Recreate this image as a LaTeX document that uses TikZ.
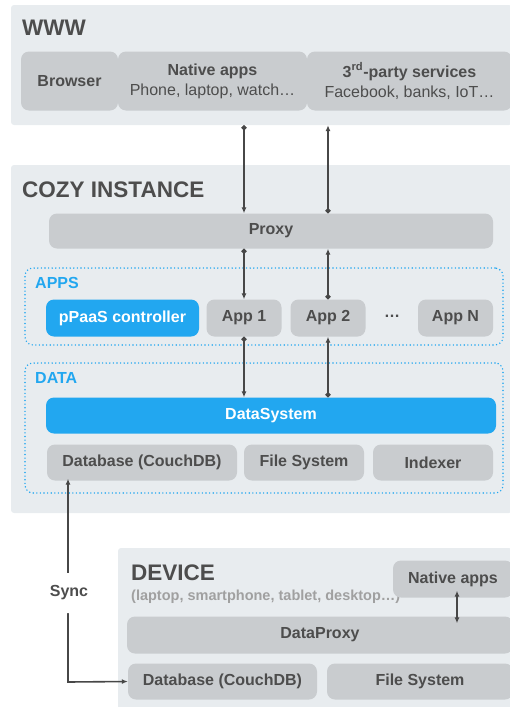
\documentclass[tikz,border=0pt]{standalone}
\usepackage{fontspec}
\setmainfont{Liberation Sans}
\usetikzlibrary{arrows.meta,positioning,calc}

\definecolor{panelbg}{HTML}{E8ECEF}
\definecolor{boxgray}{HTML}{C9CCCF}
\definecolor{cozyblue}{HTML}{22A7F0}
\definecolor{textgray}{HTML}{4D4D4D}
\definecolor{subgray}{HTML}{A0A0A0}
\definecolor{linegray}{HTML}{474747}

\newcommand\boxtextfont{\fontsize{16}{20}\selectfont\bfseries}
\newcommand\panelfont{\fontsize{22.5}{26}\selectfont\bfseries}
\newcommand\zonefont{\fontsize{16}{19}\selectfont\bfseries}
\newcommand\subfont{\fontsize{14.5}{17}\selectfont\bfseries}

\begin{document}
\begin{tikzpicture}[x=1pt, y=-1pt]
    \tikzset{panel/.style = {fill=panelbg, rounded corners=3pt, inner sep=0pt},
      box/.style = {fill=boxgray, rounded corners=8pt, text=textgray,
        font=\boxtextfont, inner sep=0pt, align=center},
      bluebox/.style = {box, fill=cozyblue, text=white},
      title/.style = {anchor=west, inner sep=0pt, text=textgray, font=\panelfont},
      zone/.style = {draw=cozyblue, rounded corners=8pt, line width=1.6pt,
        dash pattern=on 0pt off 3.6pt, line cap=round, inner sep=0pt},
      zonelabel/.style = {anchor=west, inner sep=0pt, text=cozyblue, font=\zonefont},
      dotarrow/.style = {draw=linegray, line width=1.6pt,
        {Circle[length=5pt]}-{Latex[length=6pt,width=5pt]}},
      botharrow/.style = {draw=linegray, line width=1.6pt,
        {Latex[length=6pt,width=5pt]}-{Latex[length=6pt,width=5pt]}},
      syncbox/.style = {fill=white, rounded corners=8pt, minimum width=64pt,
        minimum height=40pt, text=textgray, font=\boxtextfont}}
    \useasboundingbox (0,0) rectangle (510,707);

    % WWW
    \node[panel, minimum width=501pt, minimum height=120pt] (www) at (261.5,65) {};
    \node[title] (wwwtitle) at (22,28) {WWW};
    \node[box, minimum width=97pt, minimum height=59pt] (browser) at (69.5,81) {Browser};
    \node[box, minimum width=189pt, minimum height=59pt] (native) at (212.5,81) {Native apps\\{\mdseries Phone, laptop, watch…}};
    \node[box, minimum width=205pt, minimum height=59pt] (thirdparty) at (409.5,81) {3\textsuperscript{rd}-party services\\{\mdseries Facebook, banks, IoT…}};

    % COZY INSTANCE
    \node[panel, minimum width=501pt, minimum height=348pt] (cozy) at (261.5,339) {};
    \node[title] (cozytitle) at (22,189.5) {COZY INSTANCE};
    \node[box, minimum width=444pt, minimum height=35pt] (proxy) at (271,231) {Proxy};

    \node[zone, minimum width=478pt, minimum height=77pt] (apps) at (264,306.5) {};
    \node[zonelabel] (appslabel) at (35,283) {APPS};
    \node[bluebox, minimum width=153pt, minimum height=37pt] (ppaas) at (122.5,318) {pPaaS controller};
    \node[box, minimum width=75pt, minimum height=37pt] (app1) at (244,318) {App 1};
    \node[box, minimum width=75pt, minimum height=37pt] (app2) at (328,318) {App 2};
    \node[text=textgray, font=\boxtextfont, inner sep=0pt] (dots) at (392,316) {…};
    \node[box, minimum width=75pt, minimum height=37pt] (appn) at (455.5,318) {App N};

    \node[zone, minimum width=478pt, minimum height=130pt] (data) at (264,428) {};
    \node[zonelabel] (datalabel) at (35,378) {DATA};
    \node[bluebox, minimum width=450pt, minimum height=36pt] (dsys) at (271,415.5) {DataSystem};
    \node[box, minimum width=190pt, minimum height=36pt] (cdb) at (142,462.5) {Database (CouchDB)};
    \node[box, minimum width=120pt, minimum height=36pt] (cfs) at (304,462.5) {File System};
    \node[box, minimum width=120pt, minimum height=36pt] (indexer) at (433,462.5) {Indexer};

    % DEVICE
    \node[panel, minimum width=394pt, minimum height=165pt] (device) at (315,630.5) {};
    \node[title] (devicetitle) at (131,573) {DEVICE};
    \node[anchor=base west, inner sep=0pt, text=subgray, font=\subfont] (devicesub) at (131,600) {(laptop, smartphone, tablet, desktop…)};
    \node[box, minimum width=120pt, minimum height=37pt] (napps) at (453,579) {Native apps};
    \node[box, minimum width=386pt, minimum height=37pt] (dproxy) at (320,635) {DataProxy};
    \node[box, minimum width=189pt, minimum height=36pt] (ddb) at (222.5,681.5) {Database (CouchDB)};
    \node[box, minimum width=186pt, minimum height=36pt] (dfs) at (420,681.5) {File System};

    % arrows
    \draw[dotarrow] (app1 |- www.south) -- (app1 |- proxy.north);
    \draw[dotarrow] (app2 |- proxy.north) -- (app2 |- www.south);
    \draw[dotarrow] (app1 |- proxy.south) -- (app1.north);
    \draw[dotarrow] (app2.north) -- (app2 |- proxy.south);
    \draw[dotarrow] (app1.south) -- (app1 |- dsys.north);
    \draw[dotarrow] (app2 |- dsys.north) -- (app2.south);
    \draw[botharrow] ($(napps.south)+(4,-7)$) -- ($(napps.south |- dproxy.north)+(4,7)$);

    % sync
    \coordinate (bend) at (68,682);
    \draw[botharrow] ($(cdb.south -| bend)+(0,-2)$) -- (bend) -- (ddb.west);
    \node[syncbox] (sync) at (69,593) {Sync};
\end{tikzpicture}
\end{document}
